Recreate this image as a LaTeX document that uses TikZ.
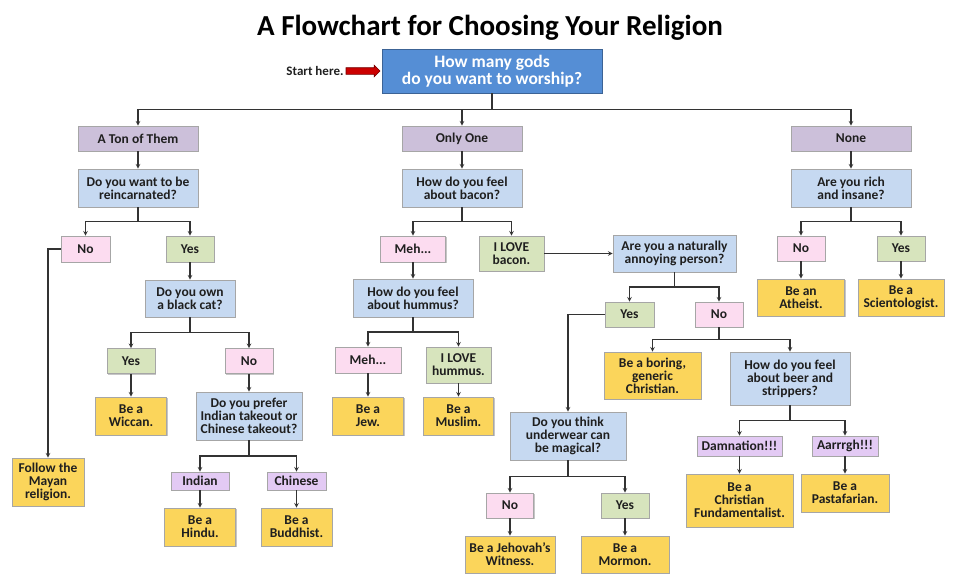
\documentclass[tikz,border=0pt]{standalone}
\usepackage{fontspec}
\setmainfont{Carlito}
\usepackage{tikz}
\usetikzlibrary{shapes.arrows, shadows}
\usetikzlibrary{calc}
\usetikzlibrary{positioning}

\definecolor{startblue}{HTML}{558ED5}
\definecolor{qblue}{HTML}{C6D9F1}
\definecolor{howmany}{HTML}{CCC0DA}
\definecolor{nopink}{HTML}{FCDCF0}
\definecolor{yesgreen}{HTML}{D7E4BD}
\definecolor{picklav}{HTML}{E3CAF4}
\definecolor{resyellow}{HTML}{FBD55B}

\begin{document}
\begin{tikzpicture}[x=1pt, y=-1pt, >=stealth,
    every node/.style = {font=\fontsize{13.5}{13}\selectfont\bfseries, text=black!88, align=center, inner sep=1pt},
    sz/.style 2 args = {minimum width=#1pt, minimum height=#2pt},
    box/.style = {draw=black!35, line width=.6pt, drop shadow={shadow xshift=1.3pt, shadow yshift=-1.3pt, opacity=.45}},
    startbox/.style = {box, fill=startblue, draw=startblue!70!black, text=white, font=\fontsize{17.5}{16.5}\selectfont\bfseries},
    hbox/.style = {box, fill=howmany},
    qbox/.style = {box, fill=qblue},
    nobox/.style = {box, fill=nopink},
    yesbox/.style = {box, fill=yesgreen},
    pickbox/.style = {box, fill=picklav},
    resbox/.style = {box, fill=resyellow},
    link/.style = {->, line width=1.1pt, draw=black!80}]
  \useasboundingbox (0,0) rectangle (960,582);

  \node[font=\fontsize{29}{32}\selectfont\bfseries, text=black] (title) at (490,28) {A Flowchart for Choosing Your Religion};
  \node[startbox, sz={220}{44}] (start) at (492,71) {How many gods\\do you want to worship?};
  \node[font=\fontsize{13}{14}\selectfont\bfseries, left=37pt of start] (here) {Start here.};
  \node[single arrow, fill=red!80!black, draw=red!45!black, line width=.6pt, minimum height=34pt,
        inner xsep=0pt, inner ysep=3pt, single arrow head extend=2.5pt, right=1pt of here] (startarrow) {};

  % first answers
  \node[hbox, sz={120}{25}] (ton) at (138,138.5) {A Ton of Them};
  \node[hbox, sz={120}{25}] (one) at (462,138.5) {Only One};
  \node[hbox, sz={120}{25}] (none) at (851,138.5) {None};

  % a ton of them
  \node[qbox, sz={120}{38}] (reinc) at (138,188) {Do you want to be\\reincarnated?};
  \node[nobox, sz={49}{26}] (no1) at (85.5,249) {No};
  \node[yesbox, sz={48}{26}] (yes1) at (190,249) {Yes};
  \node[resbox, sz={72}{48}] (mayan) at (48,482) {Follow the\\Mayan\\religion.};
  \node[qbox, sz={90}{37}] (cat) at (190,298.5) {Do you own\\a black cat?};
  \node[yesbox, sz={48}{25}] (yes2) at (131,361) {Yes};
  \node[nobox, sz={48}{25}] (no2) at (249,361) {No};
  \node[resbox, sz={71}{38}] (wiccan) at (131,416) {Be a\\Wiccan.};
  \node[qbox, sz={106}{48}] (takeout) at (249,416) {Do you prefer\\Indian takeout or\\Chinese takeout?};
  \node[pickbox, sz={58}{18}] (indian) at (200,481) {Indian};
  \node[pickbox, sz={59}{18}] (chinese) at (296.5,481) {Chinese};
  \node[resbox, sz={71}{38}] (hindu) at (200,527) {Be a\\Hindu.};
  \node[resbox, sz={71}{38}] (buddhist) at (296.5,527) {Be a\\Buddhist.};

  % only one
  \node[qbox, sz={120}{38}] (bacon) at (462,188) {How do you feel\\about bacon?};
  \node[nobox, sz={65}{26}] (meh1) at (413,249) {Meh...};
  \node[yesbox, sz={65}{35}] (lovebacon) at (511.5,253.5) {I LOVE\\bacon.};
  \node[qbox, sz={120}{38}] (hummus) at (413,298) {How do you feel\\about hummus?};
  \node[nobox, sz={66}{26}] (meh2) at (368,360) {Meh...};
  \node[yesbox, sz={65}{36}] (lovehummus) at (458.5,365) {I LOVE\\hummus.};
  \node[resbox, sz={71}{38}] (jew) at (368,416) {Be a\\Jew.};
  \node[resbox, sz={70}{38}] (muslim) at (458.5,416) {Be a\\Muslim.};
  \node[qbox, sz={123}{37}] (annoying) at (674.5,253.5) {Are you a naturally\\annoying person?};
  \node[yesbox, sz={49}{25}] (yes3) at (629.5,314.5) {Yes};
  \node[nobox, sz={48}{25}] (no3) at (719,314.5) {No};
  \node[resbox, sz={97}{47}] (boring) at (652.5,375.5) {Be a boring,\\generic\\Christian.};
  \node[qbox, sz={120}{53}] (beer) at (790,378.5) {How do you feel\\about beer and\\strippers?};
  \node[pickbox, sz={85}{20}] (damn) at (739.5,446) {Damnation!!!};
  \node[pickbox, sz={66}{20}] (arr) at (845,446) {Aarrrgh!!!};
  \node[resbox, sz={107}{53}] (fund) at (739.5,500.5) {Be a\\Christian\\Fundamentalist.};
  \node[resbox, sz={88}{38}] (pasta) at (845,493) {Be a\\Pastafarian.};
  \node[qbox, sz={116}{48}] (under) at (568,436) {Do you think\\underwear can\\be magical?};
  \node[nobox, sz={47}{25}] (no4) at (510,505.5) {No};
  \node[yesbox, sz={48}{25}] (yes4) at (625,505.5) {Yes};
  \node[resbox, sz={90}{37}] (jw) at (510,554.5) {Be a Jehovah’s\\Witness.};
  \node[resbox, sz={88}{37}] (mormon) at (625,554.5) {Be a\\Mormon.};

  % none
  \node[qbox, sz={120}{38}] (rich) at (851,188) {Are you rich\\and insane?};
  \node[nobox, sz={48}{25}] (rno) at (801,248.5) {No};
  \node[yesbox, sz={48}{25}] (ryes) at (901,248.5) {Yes};
  \node[resbox, sz={87}{37}] (atheist) at (801,297.5) {Be an\\Atheist.};
  \node[resbox, sz={86}{37}] (scient) at (901,297.5) {Be a\\Scientologist.};

  \foreach \p/\a in {start/ton, start/one, start/none, ton/reinc, one/bacon, none/rich,
      reinc/no1, reinc/yes1, yes1/cat, cat/yes2, cat/no2, yes2/wiccan, no2/takeout,
      takeout/indian, takeout/chinese, indian/hindu, chinese/buddhist,
      bacon/meh1, bacon/lovebacon, meh1/hummus, hummus/meh2, hummus/lovehummus,
      meh2/jew, lovehummus/muslim, annoying/yes3, annoying/no3, no3/boring, no3/beer,
      beer/damn, beer/arr, damn/fund, arr/pasta, under/no4, under/yes4, no4/jw, yes4/mormon,
      rich/rno, rich/ryes, rno/atheist, ryes/scient}
    \draw[link] (\p.south) |- ($(\p.south)!.5!(\a.north)$) -| (\a.north);

  \draw[link] (no1.west) -| (mayan.north);
  \draw[link] (yes3.west) -| (under.north);
  \draw[link] (lovebacon.east) -- (annoying.west);
\end{tikzpicture}
\end{document}
